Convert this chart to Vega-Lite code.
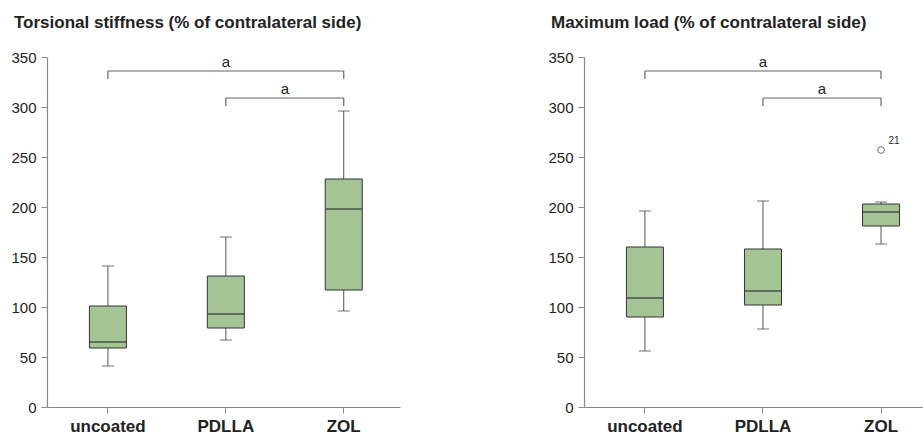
{
  "$schema": "https://vega.github.io/schema/vega-lite/v6.json",
  "padding": {"left": 10, "top": 14, "right": 0, "bottom": 0},
  "spacing": 147,
  "background": "white",
  "config": {
    "view": {"stroke": null},
    "font": "Liberation Sans",
    "axis": {"grid": false, "title": null, "domainColor": "#888", "tickColor": "#888", "labelColor": "#222", "labelFont": "Liberation Sans"},
    "title": {"anchor": "start", "frame": "bounds", "fontSize": 17, "fontWeight": "bold", "color": "#222", "font": "Liberation Sans", "offset": 18, "dx": 3}
  },
  "datasets": {
    "boxes": [
      {"panel": "T", "group": "uncoated", "lower": 41, "q1": 59, "median": 65, "q3": 101, "upper": 141},
      {"panel": "T", "group": "PDLLA", "lower": 67, "q1": 79, "median": 93, "q3": 131, "upper": 170},
      {"panel": "T", "group": "ZOL", "lower": 96, "q1": 117, "median": 198, "q3": 228, "upper": 296},
      {"panel": "M", "group": "uncoated", "lower": 56, "q1": 90, "median": 109, "q3": 160, "upper": 196},
      {"panel": "M", "group": "PDLLA", "lower": 78, "q1": 102, "median": 116, "q3": 158, "upper": 206},
      {"panel": "M", "group": "ZOL", "lower": 163, "q1": 181, "median": 195, "q3": 203, "upper": 205}
    ],
    "brackets": [
      {"level": 1, "from": "uncoated", "to": "ZOL", "y": 336, "labelY": 345, "label": "a", "mid": "PDLLA"},
      {"level": 2, "from": "PDLLA", "to": "ZOL", "y": 309, "labelY": 318, "label": "a", "mid": "PDLLA"}
    ],
    "bracketEnds": [
      {"x": "uncoated", "y": 336, "ytick": 328},
      {"x": "ZOL", "y": 336, "ytick": 328},
      {"x": "PDLLA", "y": 309, "ytick": 301},
      {"x": "ZOL", "y": 309, "ytick": 301}
    ],
    "outliers": [
      {"panel": "M", "group": "ZOL", "value": 257, "label": "21"}
    ]
  },
  "hconcat": [
    {
      "title": {"text": "Torsional stiffness (% of contralateral side)"},
      "width": 353,
      "height": 350,
      "layer": [
        {
          "data": {"name": "boxes"},
          "transform": [{"filter": "datum.panel === 'T'"}],
          "layer": [
            {"mark": {"type": "rule", "color": "#555", "strokeWidth": 1}, "encoding": {"y": {"field": "lower", "type": "quantitative"}, "y2": {"field": "upper"}}},
            {"mark": {"type": "tick", "color": "#333", "size": 12, "thickness": 1}, "encoding": {"y": {"field": "lower", "type": "quantitative"}}},
            {"mark": {"type": "tick", "color": "#333", "size": 12, "thickness": 1}, "encoding": {"y": {"field": "upper", "type": "quantitative"}}},
            {"mark": {"type": "bar", "width": 37, "fill": "#a5c496", "stroke": "#333", "strokeWidth": 1}, "encoding": {"y": {"field": "q1", "type": "quantitative"}, "y2": {"field": "q3"}}},
            {"mark": {"type": "tick", "color": "#222", "size": 36, "thickness": 1.3}, "encoding": {"y": {"field": "median", "type": "quantitative"}}}
          ],
          "encoding": {
            "x": {"field": "group", "type": "nominal", "sort": ["uncoated", "PDLLA", "ZOL"]}
          }
        },
        {
          "data": {"name": "brackets"},
          "mark": {"type": "rule", "color": "#666", "strokeWidth": 1.2},
          "encoding": {"x": {"field": "from", "type": "nominal", "sort": ["uncoated", "PDLLA", "ZOL"]}, "x2": {"field": "to"}, "y": {"field": "y", "type": "quantitative"}}
        },
        {
          "data": {"name": "bracketEnds"},
          "mark": {"type": "rule", "color": "#666", "strokeWidth": 1.2},
          "encoding": {"x": {"field": "x", "type": "nominal", "sort": ["uncoated", "PDLLA", "ZOL"]}, "y": {"field": "y", "type": "quantitative"}, "y2": {"field": "ytick"}}
        },
        {
          "data": {"name": "brackets"},
          "transform": [{"filter": "datum.level === 1"}],
          "mark": {"type": "text", "fontSize": 15, "color": "#222", "baseline": "middle"},
          "encoding": {"x": {"field": "mid", "type": "nominal", "sort": ["uncoated", "PDLLA", "ZOL"]}, "y": {"field": "labelY", "type": "quantitative"}, "text": {"field": "label"}}
        },
        {
          "data": {"name": "brackets"},
          "transform": [{"filter": "datum.level === 2"}],
          "mark": {"type": "text", "fontSize": 15, "color": "#222", "baseline": "middle", "dx": 59},
          "encoding": {"x": {"field": "mid", "type": "nominal", "sort": ["uncoated", "PDLLA", "ZOL"]}, "y": {"field": "labelY", "type": "quantitative"}, "text": {"field": "label"}}
        }
      ],
      "encoding": {
        "x": {
          "field": "group", "type": "nominal", "sort": ["uncoated", "PDLLA", "ZOL"],
          "scale": {"domain": ["uncoated", "PDLLA", "ZOL"], "paddingInner": 0.5, "paddingOuter": 0.247, "align": 0.54},
          "axis": {"labelAngle": 0, "labelFontSize": 17, "labelFontWeight": "bold", "tickSize": 6, "labelPadding": 5, "domainWidth": 1.2}
        },
        "y": {
          "type": "quantitative",
          "scale": {"domain": [0, 350], "nice": false},
          "axis": {"values": [0, 50, 100, 150, 200, 250, 300, 350], "labelFontSize": 15, "tickSize": 6, "labelPadding": 5, "domainWidth": 1.2}
        }
      }
    },
    {
      "title": {"text": "Maximum load (% of contralateral side)"},
      "width": 340,
      "height": 350,
      "layer": [
        {
          "data": {"name": "boxes"},
          "transform": [{"filter": "datum.panel === 'M'"}],
          "layer": [
            {"mark": {"type": "rule", "color": "#555", "strokeWidth": 1}, "encoding": {"y": {"field": "lower", "type": "quantitative"}, "y2": {"field": "upper"}}},
            {"mark": {"type": "tick", "color": "#333", "size": 12, "thickness": 1}, "encoding": {"y": {"field": "lower", "type": "quantitative"}}},
            {"mark": {"type": "tick", "color": "#333", "size": 12, "thickness": 1}, "encoding": {"y": {"field": "upper", "type": "quantitative"}}},
            {"mark": {"type": "bar", "width": 37, "fill": "#a5c496", "stroke": "#333", "strokeWidth": 1}, "encoding": {"y": {"field": "q1", "type": "quantitative"}, "y2": {"field": "q3"}}},
            {"mark": {"type": "tick", "color": "#222", "size": 36, "thickness": 1.3}, "encoding": {"y": {"field": "median", "type": "quantitative"}}}
          ],
          "encoding": {
            "x": {"field": "group", "type": "nominal", "sort": ["uncoated", "PDLLA", "ZOL"]}
          }
        },
        {
          "data": {"name": "outliers"},
          "layer": [
            {"mark": {"type": "point", "shape": "circle", "filled": false, "size": 45, "stroke": "#333", "strokeWidth": 1}, "encoding": {"y": {"field": "value", "type": "quantitative"}}},
            {"mark": {"type": "text", "fontSize": 10, "color": "#222", "dx": 13, "dy": -9}, "encoding": {"y": {"field": "value", "type": "quantitative"}, "text": {"field": "label"}}}
          ],
          "encoding": {"x": {"field": "group", "type": "nominal", "sort": ["uncoated", "PDLLA", "ZOL"]}}
        },
        {
          "data": {"name": "brackets"},
          "mark": {"type": "rule", "color": "#666", "strokeWidth": 1.2},
          "encoding": {"x": {"field": "from", "type": "nominal", "sort": ["uncoated", "PDLLA", "ZOL"]}, "x2": {"field": "to"}, "y": {"field": "y", "type": "quantitative"}}
        },
        {
          "data": {"name": "bracketEnds"},
          "mark": {"type": "rule", "color": "#666", "strokeWidth": 1.2},
          "encoding": {"x": {"field": "x", "type": "nominal", "sort": ["uncoated", "PDLLA", "ZOL"]}, "y": {"field": "y", "type": "quantitative"}, "y2": {"field": "ytick"}}
        },
        {
          "data": {"name": "brackets"},
          "transform": [{"filter": "datum.level === 1"}],
          "mark": {"type": "text", "fontSize": 15, "color": "#222", "baseline": "middle"},
          "encoding": {"x": {"field": "mid", "type": "nominal", "sort": ["uncoated", "PDLLA", "ZOL"]}, "y": {"field": "labelY", "type": "quantitative"}, "text": {"field": "label"}}
        },
        {
          "data": {"name": "brackets"},
          "transform": [{"filter": "datum.level === 2"}],
          "mark": {"type": "text", "fontSize": 15, "color": "#222", "baseline": "middle", "dx": 59},
          "encoding": {"x": {"field": "mid", "type": "nominal", "sort": ["uncoated", "PDLLA", "ZOL"]}, "y": {"field": "labelY", "type": "quantitative"}, "text": {"field": "label"}}
        }
      ],
      "encoding": {
        "x": {
          "field": "group", "type": "nominal", "sort": ["uncoated", "PDLLA", "ZOL"],
          "scale": {"domain": ["uncoated", "PDLLA", "ZOL"], "paddingInner": 0.5, "paddingOuter": 0.19, "align": 0.7},
          "axis": {"labelAngle": 0, "labelFontSize": 17, "labelFontWeight": "bold", "tickSize": 6, "labelPadding": 5, "domainWidth": 1.2}
        },
        "y": {
          "type": "quantitative",
          "scale": {"domain": [0, 350], "nice": false},
          "axis": {"values": [0, 50, 100, 150, 200, 250, 300, 350], "labelFontSize": 15, "tickSize": 6, "labelPadding": 5, "domainWidth": 1.2}
        }
      }
    }
  ]
}
